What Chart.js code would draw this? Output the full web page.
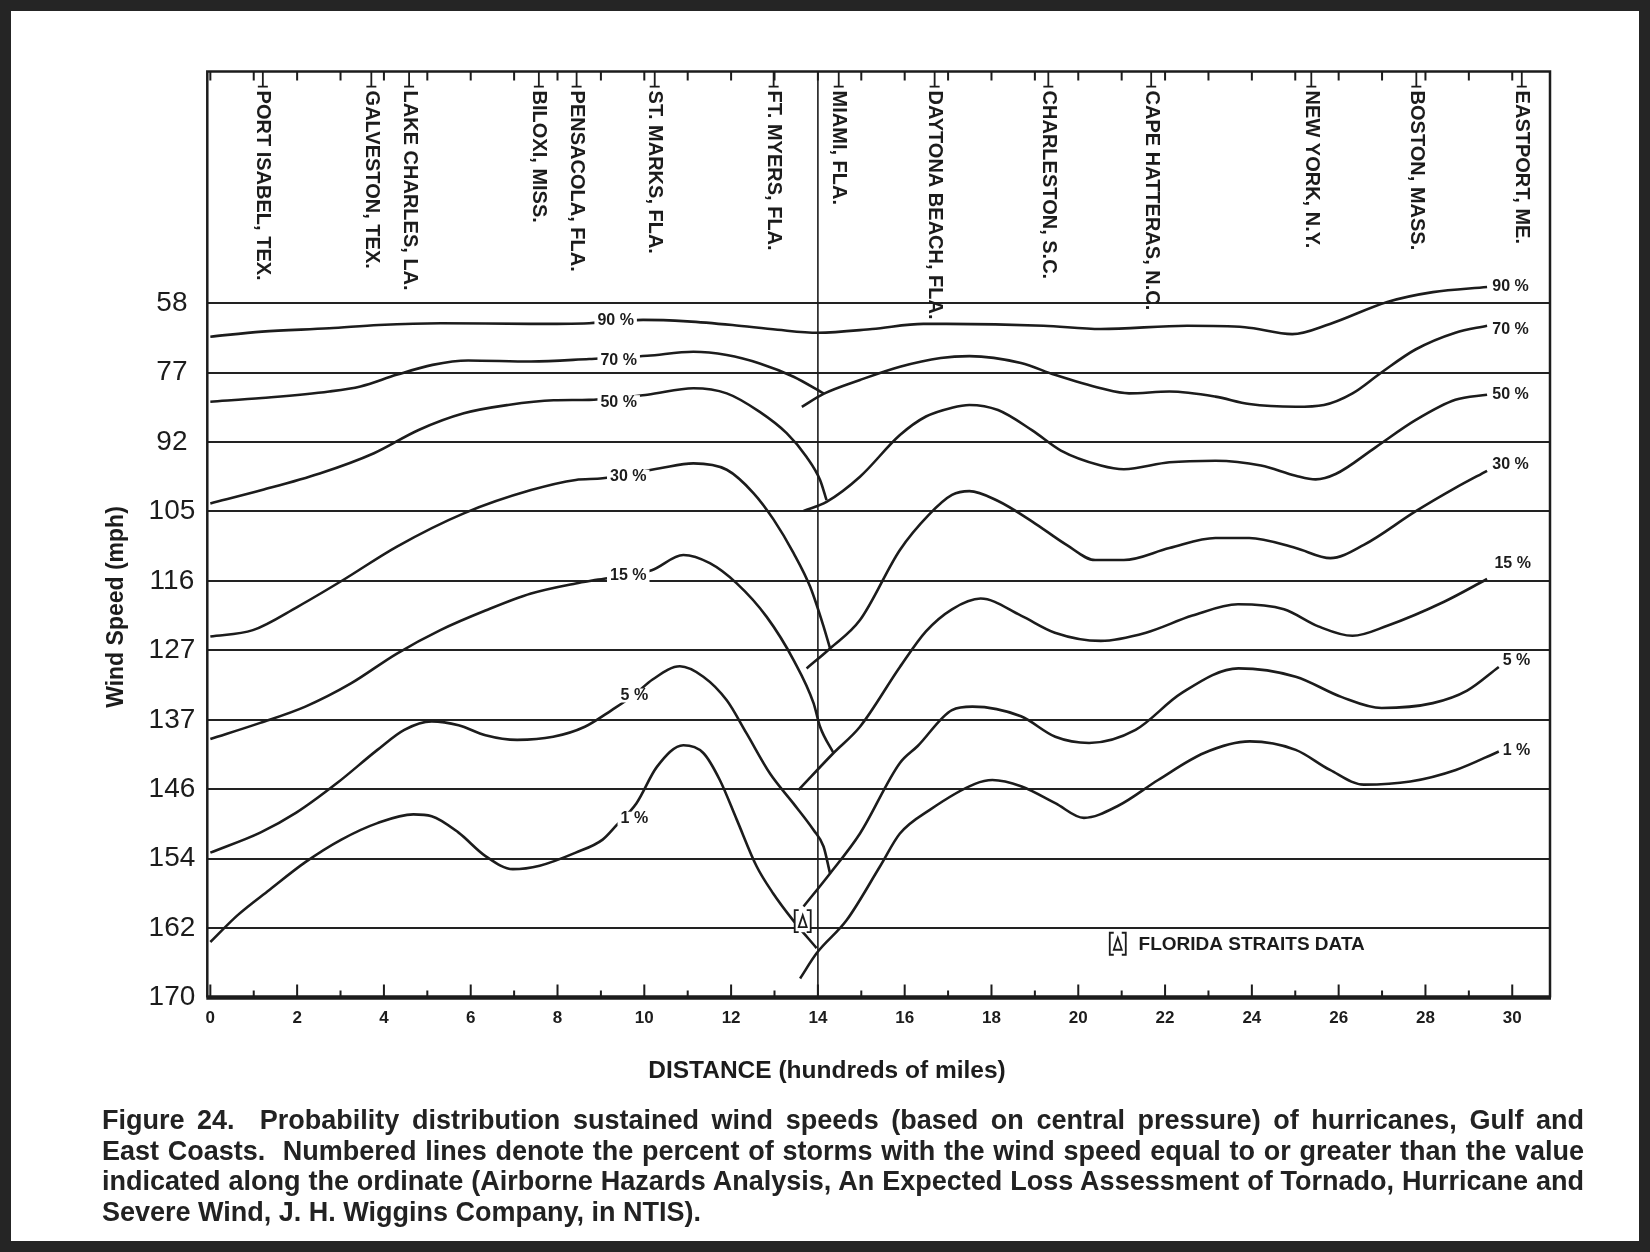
<!DOCTYPE html>
<html>
<head>
<meta charset="utf-8">
<title>Hurricane wind speed probability</title>
<script src="https://cdn.jsdelivr.net/npm/chart.js@4.4.1/dist/chart.umd.min.js"></script>
<style>
  html, body { margin: 0; padding: 0; background: #fff; }
  #page { position: relative; width: 1650px; height: 1252px; overflow: hidden; background: #fff; }
  #wrap { position: absolute; left: 0; top: 0; width: 1650px; height: 1252px; }
  #frame { position: absolute; left: 0; top: 0; width: 1650px; height: 1252px; box-sizing: border-box;
           border: 11px solid #252525; pointer-events: none; }
  #caption { position: absolute; left: 102px; top: 1105px; width: 1482px; color: #222;
             font: bold 27px 'Liberation Sans', Arial, sans-serif; line-height: 30.5px; }
  #caption div { text-align: justify; text-align-last: justify; }
  #caption div.last { text-align-last: left; }
</style>
</head>
<body>
<div id="page">
  <div id="wrap"><canvas id="windChart"></canvas></div>
  <div id="frame"></div>
  <div id="caption">
    <div>Figure 24.&nbsp; Probability distribution sustained wind speeds (based on central pressure) of hurricanes, Gulf and</div>
    <div>East Coasts.&nbsp; Numbered lines denote the percent of storms with the wind speed equal to or greater than the value</div>
    <div>indicated along the ordinate (Airborne Hazards Analysis, An Expected Loss Assessment of Tornado, Hurricane and</div>
    <div class="last">Severe Wind, J. H. Wiggins Company, in NTIS).</div>
  </div>
</div>
<script>
// ordinate: evenly spaced lines, labelled with wind speed (mph)
const yTickLabels = [58, 77, 92, 105, 116, 127, 137, 146, 154, 162, 170];
const xTickLabels = [0, 2, 4, 6, 8, 10, 12, 14, 16, 18, 20, 22, 24, 26, 28, 30];

const cityNames = ["PORT ISABEL, TEX.", "GALVESTON, TEX.", "LAKE CHARLES, LA.", "BILOXI, MISS.",
  "PENSACOLA, FLA.", "ST. MARKS, FLA.", "FT. MYERS, FLA.", "MIAMI, FLA.", "DAYTONA BEACH, FLA.",
  "CHARLESTON, S.C.", "CAPE HATTERAS, N.C.", "NEW YORK, N.Y.", "BOSTON, MASS.", "EASTPORT, ME."];
const cityDistance = [1.21, 3.71, 4.58, 7.57, 8.44, 10.24, 12.98, 14.48, 16.69, 19.31, 21.68, 25.37, 27.79, 30.22];

// distance (hundreds of miles) / wind speed (mph) for each numbered line
const p90X = [0, 1.19, 2.74, 3.88, 5.31, 7.37, 8.73, 9.97, 10.99, 12.03, 13.07, 14.0, 15.25, 16.43, 16.96, 19.2, 20.52, 22.51, 23.84, 24.93, 25.8, 27.12, 28.17, 29.42];
const p90Mph = [67.2, 65.8, 64.9, 64.0, 63.5, 63.7, 63.5, 62.6, 63.0, 64.0, 65.3, 66.1, 65.1, 63.7, 63.7, 64.2, 65.1, 64.2, 64.6, 66.5, 63.7, 57.7, 55.0, 53.6];

const p70GulfX = [0, 1.19, 2.74, 3.46, 4.29, 5.12, 5.94, 7.39, 8.73, 10.07, 11.13, 11.9, 12.66, 13.44, 14.13];
const p70GulfMph = [83.3, 82.5, 81.1, 80.0, 77.5, 74.9, 73.7, 74.0, 73.3, 72.4, 71.3, 72.2, 74.5, 77.9, 81.5];
const p70EastX = [13.63, 14.13, 14.97, 15.89, 16.83, 17.49, 18.68, 19.46, 20.52, 21.17, 22.1, 23.16, 23.94, 25.01, 25.66, 26.32, 26.97, 27.77, 28.69, 29.42];
const p70EastMph = [84.4, 81.6, 78.6, 75.4, 73.0, 72.5, 74.4, 77.5, 80.4, 81.5, 81.1, 82.2, 83.8, 84.4, 84.0, 81.5, 77.1, 70.7, 66.1, 64.2];

const p50GulfX = [0, 1.19, 2.52, 3.77, 4.8, 5.84, 6.86, 7.91, 8.73, 10.07, 11.13, 11.9, 12.66, 13.28, 13.74, 14.05, 14.2];
const p50GulfMph = [103.5, 101.0, 97.9, 94.1, 89.4, 85.8, 84.0, 83.0, 82.9, 81.8, 80.4, 81.5, 85.5, 90.1, 94.8, 99.1, 102.9];
const p50EastX = [13.67, 14.2, 14.97, 15.89, 16.49, 17.09, 17.49, 18.15, 18.94, 19.6, 20.52, 21.05, 22.1, 23.16, 24.21, 25.01, 25.47, 25.93, 26.85, 27.77, 28.69, 29.42];
const p50EastMph = [104.9, 103.2, 98.5, 90.5, 86.5, 84.6, 84.0, 85.1, 89.5, 93.6, 96.4, 97.1, 95.8, 95.5, 96.4, 98.3, 99.0, 98.0, 93.0, 87.3, 82.9, 81.8];

const p30GulfX = [0, 0.98, 2.01, 3.05, 4.29, 5.84, 7.39, 8.42, 9.04, 10.36, 11.13, 11.9, 12.52, 12.98, 13.44, 13.82, 14.13, 14.28];
const p30GulfMph = [124.8, 123.8, 120.1, 115.9, 110.6, 105.3, 101.0, 99.1, 98.8, 96.9, 96.0, 97.2, 101.6, 106.3, 111.6, 116.9, 123.2, 126.7];
const p30EastX = [13.74, 14.28, 14.97, 15.89, 16.56, 17.09, 17.49, 18.14, 18.94, 19.73, 20.39, 21.05, 22.1, 23.16, 23.94, 25.01, 25.81, 26.58, 27.77, 28.69, 29.42];
const p30EastMph = [129.6, 126.7, 122.2, 111.1, 105.5, 101.9, 101.2, 103.0, 106.6, 110.3, 112.7, 112.7, 110.8, 109.2, 109.2, 110.8, 112.4, 110.3, 105.0, 100.6, 97.4];

const p15GulfX = [0, 1.15, 2.19, 3.23, 4.29, 5.3, 6.34, 7.39, 8.42, 8.94, 10.17, 10.9, 11.51, 12.13, 12.82, 13.44, 13.9, 14.05, 14.36];
const p15GulfMph = [139.5, 137.4, 135.1, 131.8, 127.5, 123.8, 120.7, 118.0, 116.4, 115.8, 114.3, 111.9, 113.2, 116.4, 121.7, 128.4, 134.6, 137.9, 141.3];
const p15EastX = [13.55, 14.36, 14.97, 15.89, 16.49, 17.09, 17.75, 18.68, 19.46, 20.52, 21.56, 22.63, 23.68, 24.74, 25.53, 26.32, 27.12, 28.43, 29.42];
const p15EastMph = [146.1, 141.3, 137.9, 129.4, 124.0, 120.5, 118.8, 121.5, 124.2, 125.5, 124.2, 121.5, 119.7, 120.5, 123.2, 124.7, 123.1, 119.3, 115.7];

const p5GulfX = [0, 1.15, 1.98, 2.92, 3.85, 4.47, 5.1, 5.72, 6.34, 7.07, 7.9, 8.63, 9.25, 9.77, 10.19, 10.82, 11.36, 11.9, 12.36, 12.9, 13.43, 13.9, 14.13, 14.28];
const p5GulfMph = [153.3, 151.0, 148.7, 145.2, 140.9, 138.3, 137.2, 137.7, 139.0, 139.6, 139.2, 137.9, 135.6, 133.4, 131.2, 129.3, 130.8, 134.2, 138.8, 144.0, 147.6, 150.7, 152.6, 155.7];
const p5EastX = [13.67, 14.28, 14.97, 15.89, 16.3, 17.09, 17.56, 18.68, 19.47, 20.25, 21.32, 22.37, 23.69, 25.01, 26.06, 26.99, 28.17, 28.96, 29.69];
const p5EastMph = [159.5, 155.7, 151.1, 142.6, 140.4, 135.6, 135.1, 136.5, 139.2, 140.0, 138.3, 133.2, 129.6, 130.8, 133.7, 135.3, 134.6, 132.8, 129.4];

const p1GulfX = [0, 0.63, 1.36, 2.19, 3.02, 3.85, 4.68, 5.1, 5.72, 6.34, 6.97, 7.59, 8.42, 9.04, 9.35, 9.82, 10.29, 10.9, 11.36, 11.74, 12.13, 12.59, 12.97, 13.43, 13.97];
const p1GulfMph = [163.6, 160.5, 157.6, 154.4, 151.8, 149.9, 148.9, 149.1, 151.0, 153.7, 155.2, 154.8, 153.3, 151.8, 150.2, 147.6, 143.1, 140.3, 141.3, 144.8, 149.5, 154.9, 158.0, 161.1, 164.3];
const p1EastX = [13.59, 13.97, 14.66, 15.43, 15.89, 16.57, 17.62, 18.02, 18.68, 19.47, 20.13, 20.92, 21.84, 22.9, 23.95, 25.01, 25.8, 26.58, 27.65, 28.7, 29.69];
const p1EastMph = [167.8, 164.9, 161.1, 154.9, 151.1, 148.4, 145.3, 144.8, 145.6, 147.6, 149.3, 147.9, 144.8, 141.3, 139.8, 140.9, 143.5, 145.4, 145.0, 143.5, 141.1];

// line labels: text, position on the Gulf half, position at the East end
const lineLabels = ["90 %", "70 %", "50 %", "30 %", "15 %", "5 %", "1 %"];
const gulfLabelX = [9.34, 9.41, 9.41, 9.63, 9.63, 9.77, 9.77];
const gulfLabelMph = [62.9, 73.8, 83.4, 98.5, 115.2, 133.5, 149.4];
const eastLabelX = [29.54, 29.54, 29.54, 29.54, 29.59, 29.78, 29.78];
const eastLabelMph = [53.4, 65.2, 81.8, 96.3, 113.2, 128.5, 141.0];

const floridaStraits = { x: 13.65, mph: 161.2 };

const INK = "#1c1c1c";
const NARROW = "'Liberation Sans Narrow', 'Liberation Sans', Arial, sans-serif";
const SANS = "'Liberation Sans', Arial, sans-serif";

// wind speed -> position on the evenly spaced ordinate
function mphToIdx(mph) {
  if (mph <= yTickLabels[0]) {
    return (mph - yTickLabels[0]) / (yTickLabels[1] - yTickLabels[0]);
  }
  for (let i = 0; i < yTickLabels.length - 1; i++) {
    const a = yTickLabels[i], b = yTickLabels[i + 1];
    if (mph <= b) return i + (mph - a) / (b - a);
  }
  return yTickLabels.length - 1;
}

function series(xs, mph) {
  return {
    data: xs.map((x, i) => ({ x: x, y: mphToIdx(mph[i]) })),
    borderColor: INK,
    borderWidth: 2.6,
    pointRadius: 0,
    fill: false,
    cubicInterpolationMode: "monotone",
  };
}

function drawMarker(ctx, cx, cy) {
  ctx.save();
  ctx.strokeStyle = INK;
  ctx.fillStyle = "#fff";
  ctx.lineWidth = 1.8;
  ctx.fillRect(cx - 8, cy - 11, 16, 22);
  ctx.beginPath();
  ctx.moveTo(cx - 4, cy - 11); ctx.lineTo(cx - 8, cy - 11); ctx.lineTo(cx - 8, cy + 11); ctx.lineTo(cx - 4, cy + 11);
  ctx.moveTo(cx + 4, cy - 11); ctx.lineTo(cx + 8, cy - 11); ctx.lineTo(cx + 8, cy + 11); ctx.lineTo(cx + 4, cy + 11);
  ctx.moveTo(cx, cy - 6); ctx.lineTo(cx - 4, cy + 6); ctx.lineTo(cx + 4, cy + 6); ctx.closePath();
  ctx.stroke();
  ctx.restore();
}

const figureDecor = {
  id: "figureDecor",
  beforeDatasetsDraw(chart) {
    const { ctx, chartArea: a, scales: { x } } = chart;
    ctx.save();
    ctx.strokeStyle = INK;
    // Gulf / East coast divider at Miami
    ctx.lineWidth = 1.6;
    const xm = x.getPixelForValue(14);
    ctx.beginPath(); ctx.moveTo(xm, a.top); ctx.lineTo(xm, a.bottom); ctx.stroke();
    // station names along the top
    ctx.fillStyle = INK;
    ctx.font = "bold 20px " + SANS;
    ctx.textAlign = "left";
    ctx.textBaseline = "middle";
    cityNames.forEach((name, i) => {
      const px = x.getPixelForValue(cityDistance[i]);
      ctx.lineWidth = 1.8;
      ctx.beginPath();
      ctx.moveTo(px, a.top); ctx.lineTo(px, a.top + 15);
      ctx.moveTo(px - 5, a.top + 15); ctx.lineTo(px + 5, a.top + 15);
      ctx.stroke();
      ctx.save();
      ctx.translate(px, a.top + 19);
      ctx.rotate(Math.PI / 2);
      ctx.fillText(name, 0, 0);
      ctx.restore();
    });
    ctx.restore();
  },
  afterDatasetsDraw(chart) {
    const { ctx, chartArea: a, scales: { x, y } } = chart;
    ctx.save();
    ctx.fillStyle = INK;
    ctx.font = "bold 16px " + NARROW;
    ctx.textBaseline = "middle";
    lineLabels.forEach((t, i) => {
      const gx = x.getPixelForValue(gulfLabelX[i]);
      const gy = y.getPixelForValue(mphToIdx(gulfLabelMph[i]));
      const w = ctx.measureText(t).width;
      ctx.fillStyle = "#fff";
      ctx.fillRect(gx - w / 2 - 3, gy - 7, w + 6, 14);
      ctx.fillStyle = INK;
      ctx.textAlign = "center";
      ctx.fillText(t, gx, gy);
      const ex = x.getPixelForValue(eastLabelX[i]);
      const ey = y.getPixelForValue(mphToIdx(eastLabelMph[i]));
      ctx.textAlign = "left";
      ctx.fillText(t, ex, ey);
    });
    // Florida Straits data marker and its key
    drawMarker(ctx, x.getPixelForValue(floridaStraits.x), y.getPixelForValue(mphToIdx(floridaStraits.mph)));
    const kx = x.getPixelForValue(20.91), ky = y.getPixelForValue(mphToIdx(163.8));
    drawMarker(ctx, kx, ky);
    ctx.font = "bold 19px " + NARROW;
    ctx.textAlign = "left";
    ctx.fillText("FLORIDA STRAITS DATA", x.getPixelForValue(21.39), ky + 1);

    // plot frame and tick marks
    ctx.strokeStyle = INK;
    ctx.lineWidth = 2.5;
    ctx.beginPath();
    ctx.moveTo(a.left, a.bottom); ctx.lineTo(a.left, a.top); ctx.lineTo(a.right, a.top); ctx.lineTo(a.right, a.bottom);
    ctx.stroke();
    ctx.lineWidth = 4.5;
    ctx.beginPath(); ctx.moveTo(a.left - 1, a.bottom); ctx.lineTo(a.right + 1, a.bottom); ctx.stroke();
    ctx.lineWidth = 2;
    for (let i = 0; i <= 30; i++) {
      const px = x.getPixelForValue(i);
      const len = i % 2 === 0 ? 13 : 7;
      ctx.beginPath();
      ctx.moveTo(px, a.bottom); ctx.lineTo(px, a.bottom - len);
      ctx.moveTo(px, a.top); ctx.lineTo(px, a.top + 9);
      ctx.stroke();
    }

    // axis titles
    ctx.font = "bold 23px " + SANS;
    ctx.textAlign = "center";
    ctx.save();
    ctx.translate(a.left - 91, 607);
    ctx.rotate(-Math.PI / 2);
    ctx.fillText("Wind Speed (mph)", 0, 0);
    ctx.restore();
    ctx.font = "bold 24.5px " + SANS;
    ctx.fillText("DISTANCE (hundreds of miles)", 827, 1071);
    ctx.restore();
  },
};

new Chart(document.getElementById("windChart"), {
  type: "line",
  data: {
    datasets: [
      series(p90X, p90Mph),
      series(p70GulfX, p70GulfMph), series(p70EastX, p70EastMph),
      series(p50GulfX, p50GulfMph), series(p50EastX, p50EastMph),
      series(p30GulfX, p30GulfMph), series(p30EastX, p30EastMph),
      series(p15GulfX, p15GulfMph), series(p15EastX, p15EastMph),
      series(p5GulfX, p5GulfMph), series(p5EastX, p5EastMph),
      series(p1GulfX, p1GulfMph), series(p1EastX, p1EastMph),
    ],
  },
  options: {
    responsive: true,
    maintainAspectRatio: false,
    animation: false,
    events: [],
    layout: { padding: { top: 71.6, right: 100, bottom: 0, left: 0 } },
    plugins: { legend: { display: false }, tooltip: { enabled: false } },
    scales: {
      x: {
        type: "linear",
        min: -0.07,
        max: 30.87,
        afterFit: (s) => { s.height = 254.4; },
        afterBuildTicks: (s) => { s.ticks = xTickLabels.map((v) => ({ value: v })); },
        grid: { display: false, drawTicks: false },
        border: { display: false },
        ticks: {
          autoSkip: false, maxRotation: 0, padding: 11, color: INK,
          font: { family: NARROW, size: 17, weight: "bold" },
          callback: (v) => String(v),
        },
      },
      y: {
        type: "linear",
        reverse: true,
        min: -3.333,
        max: 10,
        afterFit: (s) => { s.width = 207.3; },
        afterBuildTicks: (s) => { s.ticks = yTickLabels.map((v, i) => ({ value: i })); },
        grid: { color: "#222", lineWidth: 2, drawTicks: false },
        border: { display: false },
        ticks: {
          autoSkip: false, crossAlign: "center", padding: 12, color: INK,
          font: { family: NARROW, size: 28 },
          callback: (v) => String(yTickLabels[v]),
        },
      },
    },
  },
  plugins: [figureDecor],
});
</script>
</body>
</html>
